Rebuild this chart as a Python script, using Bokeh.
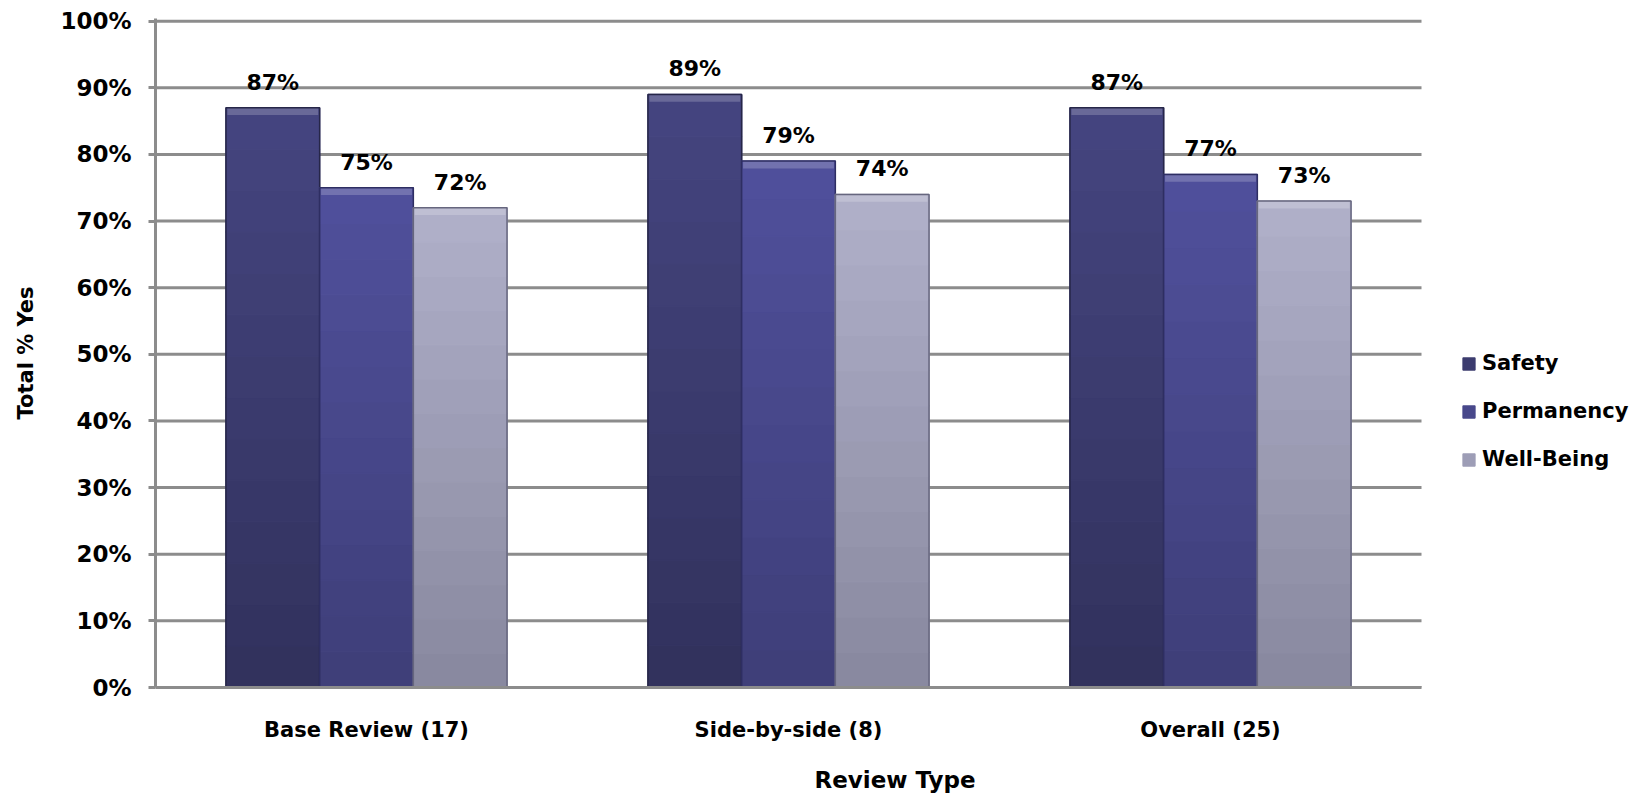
from bokeh.plotting import figure
from bokeh.models import ColumnDataSource, Range1d, NumeralTickFormatter, Legend, LegendItem, FixedTicker, LabelSet
from bokeh.core.properties import value
from bokeh.embed import file_html
from bokeh.resources import INLINE

categories = ["Base Review (17)", "Side-by-side (8)", "Overall (25)"]
series = ["Safety", "Permanency", "Well-Being"]
safety = [0.87, 0.89, 0.87]
permanency = [0.75, 0.79, 0.77]
well_being = [0.72, 0.74, 0.73]
y_ticks = [0, 0.1, 0.2, 0.3, 0.4, 0.5, 0.6, 0.7, 0.8, 0.9, 1.0]

# (bottom colour, top colour) of each series' vertical gradient
grad = [((0x31, 0x31, 0x5c), (0x45, 0x45, 0x80)),
        ((0x3e, 0x3e, 0x78), (0x50, 0x50, 0x9c)),
        ((0x88, 0x88, 0x9e), (0xb0, 0xb0, 0xca))]
edge = ["#262648", "#2e2e62", "#66667e"]
FONT = "DejaVu Sans"

n = len(categories)
pos = [i + 0.5 for i in range(n)]
PX_PER_CAT = 422.0
LEFT = 155
WIDTH = 1634
frame_w = WIDTH - LEFT

p = figure(width=WIDTH, height=796, x_range=Range1d(0, frame_w / PX_PER_CAT), y_range=Range1d(0, 1.004),
           output_backend="svg", toolbar_location=None,
           min_border_left=LEFT, min_border_right=0, min_border_top=18, min_border_bottom=109)
p.outline_line_color = None
p.background_fill_color = "white"
p.xgrid.grid_line_color = None
p.ygrid.grid_line_color = None

p.segment(x0=[0] * len(y_ticks), x1=[n] * len(y_ticks), y0=y_ticks, y1=y_ticks,
          line_color="#8c8c8c", line_width=3)

def hexc(c):
    return "#%02x%02x%02x" % tuple(int(round(v)) for v in c)

w = 0.222
offsets = [-w, 0.0, w]
K = 14
legend_r = []
for si, (vals, off, (cb, ct), ec) in enumerate(zip([safety, permanency, well_being], offsets, grad, edge)):
    xs = [x + off for x in pos]
    mid_r = None
    for k in range(K):
        t = (k + 0.5) / K
        col = hexc([cb[j] + (ct[j] - cb[j]) * t for j in range(3)])
        r = p.vbar(x=xs, bottom=[v * k / K for v in vals], top=[v * (k + 1) / K for v in vals],
                   width=w, fill_color=col, line_color=col, line_width=1.3)
        if k == K // 2:
            mid_r = r
    # top bevel highlight
    p.vbar(x=xs, bottom=[v - 0.011 for v in vals], top=vals, width=w * 0.97,
           fill_color="white", fill_alpha=0.2, line_color=None)
    # outline
    p.vbar(x=xs, bottom=0, top=vals, width=w, fill_color=None, line_color=ec, line_width=1.5)
    legend_r.append(mid_r)
    s2 = ColumnDataSource(dict(x=xs, top=vals, lab=[f"{round(v*100)}%" for v in vals]))
    p.add_layout(LabelSet(x="x", y="top", text="lab", source=s2,
                          text_align="center", text_baseline="bottom", y_offset=13,
                          text_font=value(FONT), text_font_size=value("22px"), text_font_style="bold",
                          text_color="#000000"))

p.yaxis.ticker = FixedTicker(ticks=y_ticks)
p.yaxis.formatter = NumeralTickFormatter(format="0%")
p.xaxis.ticker = FixedTicker(ticks=pos)
p.xaxis.major_label_overrides = {pv: c for pv, c in zip(pos, categories)}
p.xaxis.bounds = (0, n)

for ax in (p.xaxis, p.yaxis):
    ax.axis_line_color = "#8c8c8c"
    ax.axis_line_width = 3
    ax.major_tick_line_color = "#8c8c8c"
    ax.major_tick_line_width = 3
    ax.minor_tick_line_color = None
    ax.major_label_text_font = FONT
    ax.major_label_text_font_style = "bold"
    ax.major_label_text_color = "#000000"
    ax.axis_label_text_font = FONT
    ax.axis_label_text_font_style = "bold"
    ax.axis_label_text_color = "#000000"

p.yaxis.major_tick_in = 0
p.yaxis.major_tick_out = 7
p.yaxis.major_label_standoff = 17
p.yaxis.major_label_text_font_size = "23px"
p.yaxis.axis_label = "Total % Yes"
p.yaxis.axis_label_text_font_size = "21px"
p.yaxis.axis_label_standoff = 19

p.xaxis.major_tick_in = 0
p.xaxis.major_tick_out = 0
p.xaxis.major_label_standoff = 30
p.xaxis.major_label_text_font_size = "21px"
p.xaxis.axis_label = "Review Type"
p.xaxis.axis_label_text_font_size = "23px"
p.xaxis.axis_label_standoff = 22

legend = Legend(items=[LegendItem(label=s, renderers=[r]) for s, r in zip(series, legend_r)],
                location=(1306, 216), orientation="vertical",
                label_text_font=FONT, label_text_font_style="bold", label_text_font_size="21px",
                label_text_color="#000000", glyph_width=15, glyph_height=15, spacing=24,
                label_standoff=6, padding=4, margin=0, border_line_color=None, background_fill_alpha=0)
p.add_layout(legend)

open("out.html", "w").write(file_html(p, INLINE))
